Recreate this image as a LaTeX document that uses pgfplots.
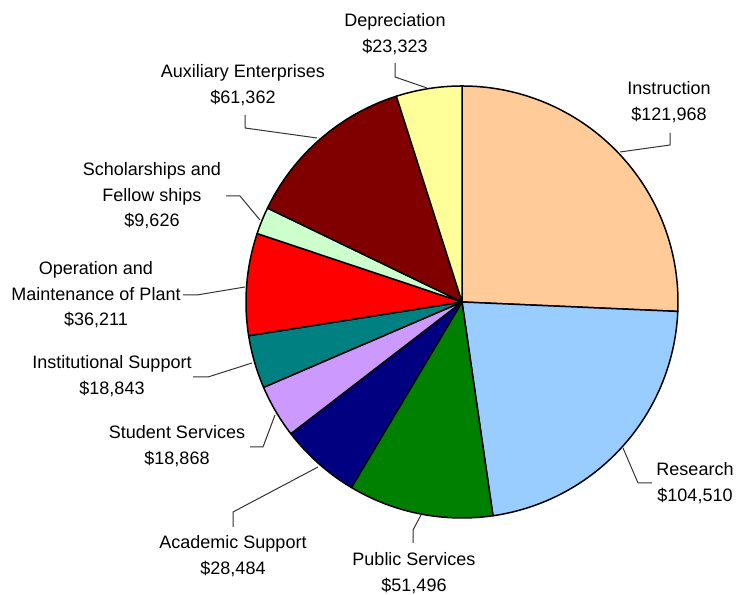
\documentclass[border=0pt]{standalone}
\usepackage{fontspec}
\setmainfont{Liberation Sans}
\usepackage{pgfplots}
\usepackage{pgfplotstable}
\pgfplotsset{compat=1.18}
\definecolor{cInstr}{HTML}{FFCC99}
\definecolor{cRes}{HTML}{99CCFF}
\definecolor{cPub}{HTML}{008000}
\definecolor{cAcad}{HTML}{000080}
\definecolor{cStud}{HTML}{CC99FF}
\definecolor{cInst}{HTML}{008080}
\definecolor{cOper}{HTML}{FF0000}
\definecolor{cSchol}{HTML}{CCFFCC}
\definecolor{cAux}{HTML}{800000}
\definecolor{cDep}{HTML}{FFFF99}
\pgfplotstableread{
value color
121968 cInstr
104510 cRes
51496 cPub
28484 cAcad
18868 cStud
18843 cInst
36211 cOper
9626 cSchol
61362 cAux
23323 cDep
}\piedata
\begin{document}
\begin{tikzpicture}[every node/.style={font={\fontsize{9bp}{12.8bp}\selectfont},align=center,inner sep=0pt}]
\begin{axis}[x=0.5bp,y=0.5bp,xmin=0,xmax=738,ymin=0,ymax=595,hide axis,clip=false]
\path (axis cs:0,0) rectangle (axis cs:738,595);
\def\pietotal{0}
\pgfplotsforeachungrouped \i in {0,...,9}{%
  \pgfplotstablegetelem{\i}{value}\of\piedata
  \edef\pietotal{\fpeval{\pietotal+\pgfplotsretval}}%
}
\def\piecum{0}
\pgfplotsforeachungrouped \i in {0,...,9}{%
  \pgfplotstablegetelem{\i}{value}\of\piedata
  \let\pval\pgfplotsretval
  \pgfplotstablegetelem{\i}{color}\of\piedata
  \let\pcol\pgfplotsretval
  \edef\angA{\fpeval{round(90-360*\piecum/\pietotal,4)}}%
  \edef\piecum{\fpeval{\piecum+\pval}}%
  \edef\angB{\fpeval{round(90-360*\piecum/\pietotal,4)}}%
  \edef\temp{\noexpand\filldraw[fill=\pcol,draw=black,line width=0.75bp,line join=round] (axis cs:462,293) -- ++(\angA:108bp) arc[start angle=\angA,end angle=\angB,radius=108bp] -- cycle;}%
  \temp
}
% leader lines
\begin{scope}[line width=0.5bp,draw=black!80]
\draw (axis cs:395,532) -- (axis cs:395,518) -- (axis cs:427,507);
\draw (axis cs:670,462) -- (axis cs:670,450) -- (axis cs:620,443);
\draw (axis cs:652,112) -- (axis cs:638,112) -- (axis cs:623,147);
\draw (axis cs:413,52) -- (axis cs:413,65) -- (axis cs:421,80);
\draw (axis cs:233,68) -- (axis cs:233,83) -- (axis cs:318,128);
\draw (axis cs:250,148) -- (axis cs:263,148) -- (axis cs:275,180);
\draw (axis cs:193,218) -- (axis cs:208,218) -- (axis cs:252,232);
\draw (axis cs:183,300) -- (axis cs:197,300) -- (axis cs:245,308);
\draw (axis cs:226,399) -- (axis cs:240,399) -- (axis cs:260,375);
\draw (axis cs:245,480) -- (axis cs:245,467) -- (axis cs:317,457);
\end{scope}
% labels
\node at (axis cs:395,561) {Depreciation\\\$23,323};
\node at (axis cs:669,493) {Instruction\\\$121,968};
\node at (axis cs:243,510) {Auxiliary Enterprises\\\$61,362};
\node at (axis cs:152,399) {Scholarships and\\Fellow ships\\\$9,626};
\node at (axis cs:96,300) {Operation and\\Maintenance of Plant\\\$36,211};
\node at (axis cs:112,219) {Institutional Support\\\$18,843};
\node at (axis cs:177,149) {Student Services\\\$18,868};
\node at (axis cs:233,39) {Academic Support\\\$28,484};
\node at (axis cs:414,22) {Public Services\\\$51,496};
\node at (axis cs:695,112) {Research\\\$104,510};
\end{axis}
\end{tikzpicture}
\end{document}
